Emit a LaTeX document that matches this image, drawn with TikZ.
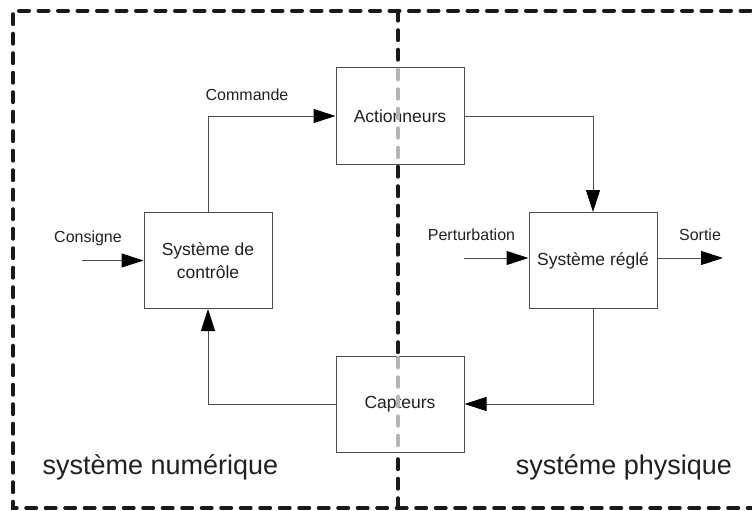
\documentclass[tikz,border=0pt]{standalone}
\usepackage{fontspec}
\setmainfont{Liberation Sans}
\usetikzlibrary{arrows.meta}
\definecolor{txt}{HTML}{231F20}
\definecolor{ln}{HTML}{4D4D4D}
\definecolor{lightdash}{HTML}{B5B5B5}
\tikzset{
  box/.style={draw=ln, line width=1pt, fill=white, minimum width=128pt, minimum height=96pt, inner sep=0pt, text=txt, font=\fontsize{17.5}{22.5}\selectfont, align=center},
  lbl/.style={text=txt, font=\fontsize{16}{19}\selectfont, inner sep=0pt},
  big/.style={text=txt, font=\fontsize{27}{30}\selectfont, inner sep=0pt},
  conn/.style={draw=ln, line width=1pt, -{Triangle[length=22pt,width=14pt,color=black]}},
  zone/.style={draw=black!90, line width=4pt, line cap=round, dash pattern=on 10pt off 9.5pt},
  zonegrey/.style={draw=lightdash, line width=3.5pt, line cap=round, dash pattern=on 10pt off 9.5pt},
}
\begin{document}
\begin{tikzpicture}[x=1pt,y=-1pt]
\useasboundingbox (0,0) rectangle (752,511);
\clip (0,0) rectangle (752,511);
% zones
\coordinate (divtop) at (398,10.7);
\coordinate (divbot) at (398,508);
\draw[zone] (770,10.7) -- (13,10.7) -- (13,508) -- (770,508);
\draw[zone] (divtop) -- (divbot);
% boxes
\node[box] (act) at (400,116) {Actionneurs};
\node[box] (cap) at (400,404) {Capteurs};
\node[box] (ctrl) at (208,260.5) {Système de\\contrôle};
\node[box] (reg) at (593,260.5) {Système réglé};
% grey divider segments over boxes
\draw[zonegrey] (act.north -| divtop) ++(0,2) -- (act.south -| divtop);
\draw[zonegrey] (cap.north -| divtop) ++(0,2) -- (cap.south -| divtop);
% inputs / outputs
\coordinate (cons) at (82,260.5);
\coordinate (pert) at (464,258);
\coordinate (sort) at (723,258);
\draw[conn] (cons) -- (ctrl.west);
\draw[conn] (pert) -- (reg.west |- pert);
\draw[conn] (reg.east |- sort) -- (sort);
% loop
\draw[conn] (ctrl.north) |- (act.west);
\draw[conn] (act.east) -| (reg.north);
\draw[conn] (reg.south) |- (cap.east);
\draw[conn] (cap.west) -| (ctrl.south);
% labels
\node[lbl] (lcommande) at (247,95) {Commande};
\node[lbl] (lconsigne) at (88,238) {Consigne};
\node[lbl] (lpert) at (471.5,235) {Perturbation};
\node[lbl] (lsortie) at (700,235) {Sortie};
\node[big] (lnum) at (160.5,467) {système numérique};
\node[big] (lphys) at (624,467) {systéme physique};
\end{tikzpicture}
\end{document}
